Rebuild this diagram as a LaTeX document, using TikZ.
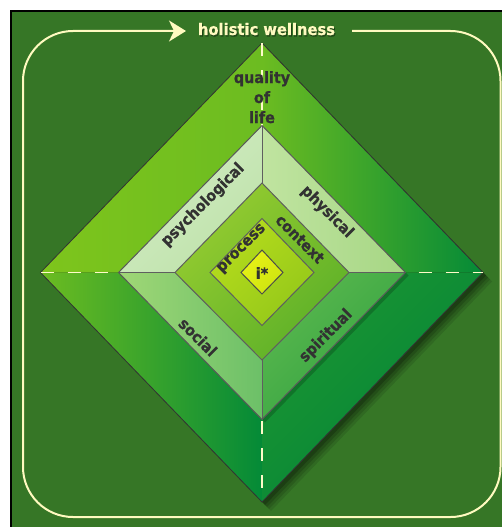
\documentclass[tikz,border=0pt]{standalone}
\usepackage{fontspec}
\setmainfont{DejaVu Sans}[FakeStretch=0.92, BoldFeatures={FakeBold=0.8}]
\usetikzlibrary{arrows.meta}
\definecolor{bg}{RGB}{54,118,38}
\definecolor{cream}{RGB}{255,250,192}
\definecolor{txt}{RGB}{50,50,50}
\definecolor{oLight}{RGB}{126,197,28}
\definecolor{oLight2}{RGB}{108,188,33}
\definecolor{oDark}{RGB}{4,138,55}
\definecolor{oMid}{RGB}{28,150,50}
\definecolor{oDark2}{RGB}{0,130,56}
\definecolor{psyA}{RGB}{212,237,198}
\definecolor{psyB}{RGB}{190,226,170}
\definecolor{phyA}{RGB}{192,228,160}
\definecolor{phyB}{RGB}{166,214,132}
\definecolor{socA}{RGB}{160,215,118}
\definecolor{socB}{RGB}{108,192,104}
\definecolor{spiA}{RGB}{90,184,78}
\definecolor{spiB}{RGB}{48,160,64}
\definecolor{conA}{RGB}{150,204,48}
\definecolor{conB}{RGB}{92,176,40}
\definecolor{proA}{RGB}{182,220,28}
\definecolor{proB}{RGB}{148,200,26}
\definecolor{iA}{RGB}{232,242,22}
\definecolor{iB}{RGB}{205,228,16}
\definecolor{edge}{RGB}{95,95,95}
\begin{document}
\begin{tikzpicture}[x=1pt,y=-1pt,
  lbl/.style={font=\fontsize{15.6}{20}\selectfont\bfseries, text=txt, inner sep=0pt},
  sep/.style={draw=edge, line width=1pt},
  dashline/.style={draw=cream!85!white, line width=1.3pt, dash pattern=on 13pt off 14pt}]
\useasboundingbox (0,0) rectangle (502,527);
\fill[white] (0,0) rectangle (502,527);
\fill[bg] (11,11) rectangle (503,528);
\draw[black, line width=1.5pt] (11,528) -- (11,11) -- (503,11);

% frame with arrow
\coordinate (fs) at (352,31);
\coordinate (ft) at (186,31);
\draw[cream, line width=2pt, rounded corners=50pt, -{Stealth[length=17pt,width=21pt,inset=5pt]}]
  (fs) -- (500.5,31) -- (500.5,517) -- (23,517) -- (23,31) -- (ft);
\node[font=\fontsize{16}{18}\selectfont\bfseries, text=black, opacity=0.35, anchor=base, inner sep=0pt] at (267.5,36.5) {holistic wellness};
\node[font=\fontsize{16}{18}\selectfont\bfseries, text=cream, anchor=base, inner sep=0pt] (hw) at (266.5,35) {holistic wellness};

% coordinates
\coordinate (C) at (262,272.5);
\coordinate (ot) at (262,43);   \coordinate (or) at (483,272.5);
\coordinate (ob) at (262,502);  \coordinate (ol) at (40.5,272.5);
\coordinate (qt) at (262,125.5); \coordinate (qr) at (405.5,272.5);
\coordinate (qb) at (262,419.5); \coordinate (ql) at (118.5,272.5);
\coordinate (ct) at (262,183);  \coordinate (cr) at (349,272.5);
\coordinate (cb) at (262,360);  \coordinate (cl) at (175,272.5);
\coordinate (pt) at (262,218.5); \coordinate (pr) at (314,272.5);
\coordinate (pb) at (262,325.5); \coordinate (pl) at (210,272.5);
\coordinate (it) at (262,250);  \coordinate (ir) at (283,272.5);
\coordinate (ib) at (262,294);  \coordinate (il) at (241,272.5);

% outer diamond shadow
\foreach \d/\o in {9/0.10,7/0.12,5/0.15,3/0.2}{
  \fill[black, opacity=\o] ([shift={(\d,\d)}]ot) -- ([shift={(\d,\d)}]or) -- ([shift={(\d,\d)}]ob) -- ([shift={(\d,\d)}]ol) -- cycle;
}
% outer diamond, four quarters
\shade[left color=oLight, right color=oLight2] (ol) -- (ot) -- (C) -- cycle;
\shade[left color=oLight2, right color=oDark] (ot) -- (or) -- (C) -- cycle;
\shade[left color=oLight2, right color=oDark] (ol) -- (C) -- (ob) -- cycle;
\shade[top color=oMid, bottom color=oDark2, shading angle=45] (C) -- (or) -- (ob) -- cycle;
\draw[black!80, line width=0.8pt] (ot) -- (or) -- (ob) -- (ol) -- cycle;

% dashed axes
\draw[dashline] (ol) -- (or);
\draw[dashline] (ot) -- (ob);

% quadrant diamond shadow
\fill[black, opacity=0.2] ([shift={(3,3)}]qt) -- ([shift={(3,3)}]qr) -- ([shift={(3,3)}]qb) -- ([shift={(3,3)}]ql) -- cycle;

% quadrants
\shade[top color=psyA, bottom color=psyB, shading angle=45] (ql) -- (qt) -- (ct) -- (cl) -- cycle;
\shade[left color=phyA, right color=phyB] (qt) -- (qr) -- (cr) -- (ct) -- cycle;
\shade[left color=socA, right color=socB] (ql) -- (cl) -- (cb) -- (qb) -- cycle;
\shade[top color=spiA, bottom color=spiB, shading angle=45] (cr) -- (qr) -- (qb) -- (cb) -- cycle;
\draw[sep] (qt) -- (ct);
\draw[sep] (cb) -- (qb);
\draw[sep] (ql) -- (cl);
\draw[sep] (cr) -- (qr);
\draw[draw=black!65, line width=1pt] (qt) -- (qr) -- (qb) -- (ql) -- cycle;

% context
\shade[top color=conA, bottom color=conB, shading angle=45] (ct) -- (cr) -- (cb) -- (cl) -- cycle;
\draw[sep] (ct) -- (cr) -- (cb) -- (cl) -- cycle;
% process
\shade[top color=proA, bottom color=proB, shading angle=45] (pt) -- (pr) -- (pb) -- (pl) -- cycle;
\draw[sep] (pt) -- (pr) -- (pb) -- (pl) -- cycle;
% i*
\shade[top color=iA, bottom color=iB, shading angle=45] (it) -- (ir) -- (ib) -- (il) -- cycle;
\draw[draw=black!70, line width=1pt] (it) -- (ir) -- (ib) -- (il) -- cycle;

% labels
\node[lbl, anchor=base] (q1) at (262,83) {quality};
\node[lbl, anchor=base] (q2) at (262,103) {of};
\node[lbl, anchor=base] (q3) at (262,123) {life};
\node[lbl, rotate=45]  (psy) at (203,205) {psychological};
\node[lbl, rotate=-45] (phy) at (327,212) {physical};
\node[lbl, rotate=-45] (con) at (300,239) {context};
\node[lbl, rotate=45]  (pro) at (242,249) {process};
\node[lbl]             (istar) at (262,273) {i*};
\node[lbl, rotate=-45] (soc) at (198,337) {social};
\node[lbl, rotate=45]  (spi) at (326,336) {spiritual};
\end{tikzpicture}
\end{document}
